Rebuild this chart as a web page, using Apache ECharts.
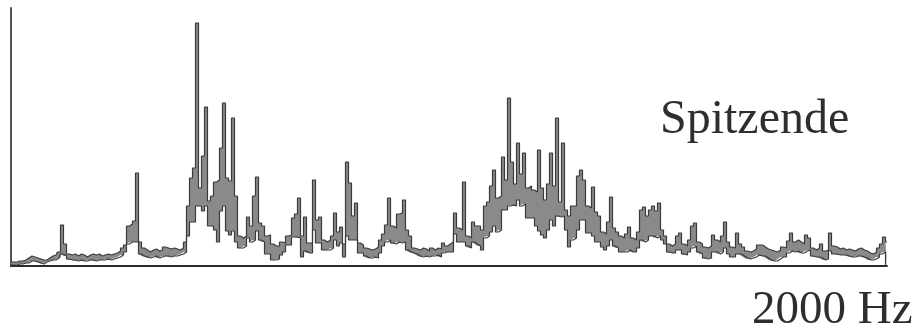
<!DOCTYPE html>
<html>
<head>
<meta charset="utf-8">
<script src="https://cdn.jsdelivr.net/npm/echarts@6/dist/echarts.min.js"></script>
<style>
html,body{margin:0;padding:0;background:#fff;}
#chart{width:917px;height:334px;}
</style>
</head>
<body>
<div id="chart"></div>
<script>
// Spectrum 0..2000 Hz, evenly spaced bins
const freqMax = 2000;
const binCount = 293;
// Upper envelope of the spectral band (amplitude units)
const upper = [
  4,4,4,5,5,6,8,10,9,8,
  7,6,6,8,10,11,14,41,22,12,
  11,12,10,12,11,9,11,12,11,12,
  10,11,12,11,12,13,15,18,21,40,
  42,45,93,24,18,16,14,16,17,15,
  16,19,18,17,18,17,16,18,24,60,
  88,98,243,78,110,159,65,70,84,86,
  118,163,88,85,148,70,30,28,30,49,
  40,70,89,43,40,30,31,22,20,20,
  24,23,30,31,48,52,68,30,49,23,
  23,86,46,49,26,24,26,30,53,34,
  39,22,104,83,50,63,23,21,18,17,
  16,17,19,26,32,41,68,40,38,52,
  53,66,36,30,18,17,16,18,17,15,
  18,16,18,17,23,20,22,24,53,38,
  36,84,30,28,44,40,40,36,60,64,
  80,96,68,70,109,86,168,104,82,123,
  92,113,78,80,76,74,116,78,66,82,
  113,80,148,64,123,56,50,60,60,90,
  96,86,60,58,79,54,50,34,32,44,
  69,38,34,30,28,32,39,28,26,34,
  56,59,50,56,60,55,63,36,30,22,
  20,22,30,33,22,20,26,40,43,24,
  22,19,18,20,31,26,24,30,44,24,
  19,18,33,22,19,15,14,15,17,21,
  21,19,17,16,15,14,16,19,18,25,
  33,24,26,24,22,31,28,18,16,18,
  22,15,16,33,20,19,17,18,16,17,
  16,15,17,18,16,15,13,12,14,18,
  22,29,24
];
// Lower envelope of the spectral band
const lower = [
  1,1,1,2,2,3,3,5,5,4,
  3,2,4,5,6,6,8,12,10,7,
  6,6,5,6,5,5,6,6,5,6,
  6,6,7,6,7,8,9,11,14,22,
  24,24,24,12,10,9,8,9,10,8,
  9,10,10,9,10,10,11,12,14,30,
  44,44,60,60,55,60,40,40,36,24,
  55,60,35,31,35,24,18,18,20,28,
  24,26,35,26,24,12,12,6,6,7,
  11,14,21,21,29,29,28,9,15,13,
  13,36,23,23,16,16,16,18,26,20,
  23,9,30,26,26,26,13,13,10,8,
  8,9,8,13,20,24,26,23,22,24,
  23,24,16,14,13,12,10,9,10,9,
  10,10,11,9,13,14,14,14,32,24,
  24,24,20,18,24,22,20,16,28,30,
  34,40,34,36,56,56,60,61,60,66,
  60,62,48,48,48,40,35,31,28,36,
  46,40,50,49,50,36,19,26,28,36,
  46,46,33,33,30,24,24,19,16,20,
  26,20,18,14,14,14,16,14,14,18,
  26,24,26,30,30,28,30,26,22,14,
  13,13,16,16,12,11,14,18,20,14,
  12,8,7,8,14,14,12,14,18,12,
  9,9,12,12,10,8,7,8,9,11,
  10,10,8,6,5,5,7,9,9,13,
  15,14,15,13,13,15,16,10,9,9,
  8,6,7,15,12,12,11,11,11,10,
  9,9,10,10,9,8,6,6,7,9,
  12,14,0
];
const labelText = 'Spitzende';
const axisText = '2000 Hz';

const binHz = freqMax / (binCount - 1);
const freqs = upper.map((v, i) => (i * binHz).toFixed(1));
const band = upper.map((v, i) => v - lower[i]);

const chart = echarts.init(document.getElementById('chart'), null, {renderer: 'canvas'});
chart.setOption({
  animation: false,
  backgroundColor: '#ffffff',
  grid: {left: 11, right: 30, top: 8, bottom: 68},
  xAxis: {
    type: 'category', data: freqs, boundaryGap: false,
    axisLine: {show: true, onZero: false, lineStyle: {color: '#2a2a2a', width: 2}},
    axisTick: {show: false}, axisLabel: {show: false}, splitLine: {show: false}
  },
  yAxis: {
    type: 'value', min: 0, max: 258,
    axisLine: {show: true, lineStyle: {color: '#555', width: 2}},
    axisTick: {show: false}, axisLabel: {show: false}, splitLine: {show: false}
  },
  series: [
    {
      type: 'line', data: lower, stack: 'band', step: 'middle',
      symbol: 'none', lineStyle: {color: '#3a3a3a', width: 1.2}, z: 3
    },
    {
      type: 'line', data: band, stack: 'band', step: 'middle',
      symbol: 'none', lineStyle: {color: '#3a3a3a', width: 1.2},
      areaStyle: {color: '#8a8a8a', opacity: 1}, z: 3
    }
  ],
  graphic: [
    {type: 'text', left: 660, top: 96, z: 100, style: {text: labelText, font: '48px "Liberation Serif", serif', fill: '#2e2e2e'}},
    {type: 'text', left: 752, top: 287, z: 100, style: {text: axisText, font: '47px "Liberation Serif", serif', fill: '#2e2e2e'}}
  ]
});
</script>
</body>
</html>
